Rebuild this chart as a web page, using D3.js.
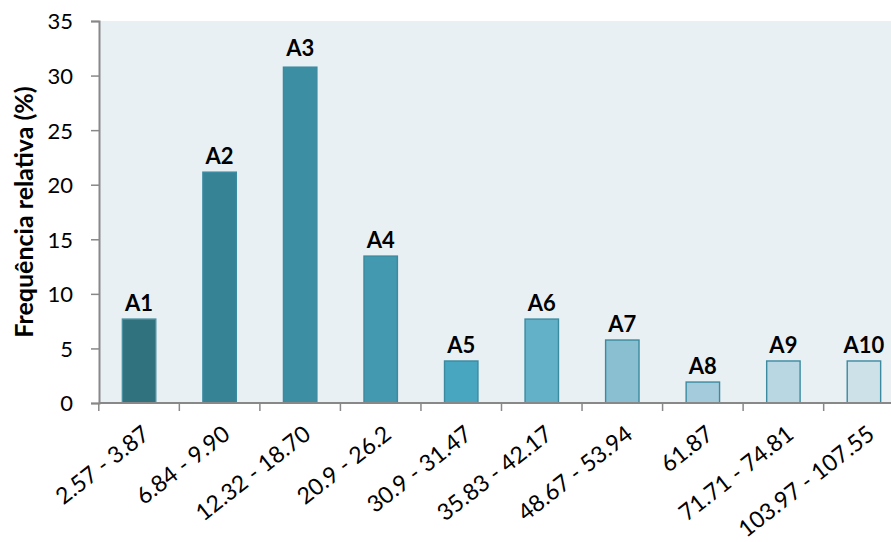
<!DOCTYPE html>
<html>
<head>
<meta charset="utf-8">
<script src="https://cdn.jsdelivr.net/npm/d3@7"></script>
<style>
  html, body { margin: 0; padding: 0; background: #fff; }
  svg { display: block; }
  text { font-family: Lato, "Open Sans", sans-serif; fill: #000; }
</style>
</head>
<body>
<svg id="chart" width="891" height="542"></svg>
<script>
// Diameter classes and relative frequency per class
const classes = ["2.57 - 3.87", "6.84 - 9.90", "12.32 - 18.70", "20.9 - 26.2", "30.9 - 31.47",
                 "35.83 - 42.17", "48.67 - 53.94", "61.87", "71.71 - 74.81", "103.97 - 107.55"];
const labels = ["A1", "A2", "A3", "A4", "A5", "A6", "A7", "A8", "A9", "A10"];
const freq = [7.69, 21.15, 30.77, 13.46, 3.85, 7.69, 5.77, 1.92, 3.85, 3.85];
const colors = ["#30737f", "#358395", "#3c8ea3", "#4299b0", "#48a6c0",
                "#63b1c9", "#89bfd1", "#a4cbdb", "#b9d7e2", "#cde1e9"];
const yTicks = [0, 5, 10, 15, 20, 25, 30, 35];

const svg = d3.select("#chart");
const margin = { left: 99, top: 21, bottom: 139 };
const plotW = 805;
const plotH = 542 - margin.top - margin.bottom;

const x = d3.scaleBand().domain(classes).range([margin.left, margin.left + plotW])
  .paddingInner(0.585).paddingOuter(0.29);
const y = d3.scaleLinear().domain([0, 35]).range([margin.top + plotH, margin.top]);

// plot background
svg.append("rect")
  .attr("x", margin.left).attr("y", margin.top)
  .attr("width", plotW).attr("height", plotH)
  .attr("fill", "#e9f0f4");

// bars
svg.append("g").selectAll("rect").data(freq).join("rect")
  .attr("x", (d, i) => x(classes[i]))
  .attr("y", d => y(d))
  .attr("width", x.bandwidth())
  .attr("height", d => y(0) - y(d))
  .attr("fill", (d, i) => colors[i])
  .attr("stroke", (d, i) => i === 0 ? "#4a90a2" : "#3a8aa0")
  .attr("stroke-width", 1.4);

// bar labels
svg.append("g").selectAll("text").data(freq).join("text")
  .attr("x", (d, i) => x(classes[i]) + x.bandwidth() / 2)
  .attr("y", (d, i) => y(d) - (i === 2 ? 11 : 8))
  .attr("text-anchor", "middle")
  .attr("font-size", 22)
  .attr("font-weight", "bold")
  .text((d, i) => labels[i]);

// y axis
const yAxis = svg.append("g")
  .attr("transform", `translate(${margin.left},0)`)
  .call(d3.axisLeft(y).tickValues(yTicks).tickSize(8).tickPadding(18));
yAxis.selectAll("text").attr("font-size", 22).style("font-family", "Lato, sans-serif")
  .attr("fill", "#000").attr("dy", "0.36em");
yAxis.select(".domain").attr("stroke", "#888").attr("stroke-width", 2);
yAxis.selectAll(".tick line").attr("stroke", "#888").attr("stroke-width", 1.5);

// x axis with ticks on band boundaries
const boundaries = classes.map(c => x(c) - x.step() * x.paddingInner() / 2);
const xAxisG = svg.append("g").attr("transform", `translate(0,${y(0)})`);
xAxisG.append("line")
  .attr("x1", margin.left).attr("x2", margin.left + plotW)
  .attr("stroke", "#888").attr("stroke-width", 2);
xAxisG.selectAll("line.tick").data(boundaries).join("line")
  .attr("class", "tick")
  .attr("x1", d => d).attr("x2", d => d)
  .attr("y1", 0).attr("y2", 8)
  .attr("stroke", "#888").attr("stroke-width", 1.5);
xAxisG.selectAll("text").data(classes).join("text")
  .attr("transform", d => `translate(${x(d) + x.bandwidth() / 2 + 12},${34}) rotate(-38)`)
  .attr("text-anchor", "end")
  .attr("font-size", 23)
  .text(d => d);

// y axis title
svg.append("text")
  .attr("transform", `translate(33,${margin.top + plotH / 2}) rotate(-90)`)
  .attr("text-anchor", "middle")
  .attr("font-size", 25)
  .attr("font-weight", "bold")
  .text("Frequência relativa (%)");
</script>
</body>
</html>
